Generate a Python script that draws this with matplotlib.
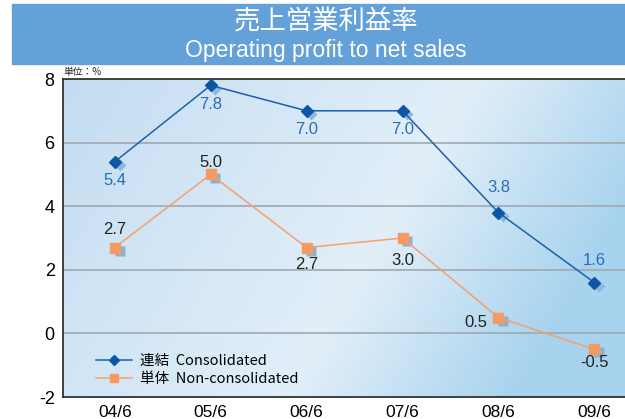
import matplotlib
matplotlib.use("Agg")
import matplotlib.pyplot as plt
import numpy as np
from matplotlib.patches import Rectangle

plt.rcParams['font.family'] = ['Noto Sans CJK JP', 'DejaVu Sans']

periods = ["04/6", "05/6", "06/6", "07/6", "08/6", "09/6"]
consolidated = [5.4, 7.8, 7.0, 7.0, 3.8, 1.6]
non_consolidated = [2.7, 5.0, 2.7, 3.0, 0.5, -0.5]
yticks = [-2, 0, 2, 4, 6, 8]

W, H = 625, 419
fig = plt.figure(figsize=(W / 100, H / 100), dpi=100)
LAT = ["Liberation Sans", "DejaVu Sans"]

# title banner
fig.patches.append(Rectangle((12 / W, 1 - 64 / H), (W - 12) / W, 60 / H,
                             transform=fig.transFigure, color="#63a1d8", zorder=0))
fig.text(326 / W, 1 - 21.5 / H, "売上営業利益率", color="white", fontsize=19,
         ha="center", va="center")
fig.text(326 / W, 1 - 51 / H, "Operating profit to net sales", color="white",
         fontsize=16.5, ha="center", va="center", family=LAT)

left, right, top, bottom = 63, 625, 79, 397
ax = fig.add_axes([left / W, 1 - bottom / H, (right - left) / W, (bottom - top) / H])

x = np.arange(len(periods))
ax.set_xlim(-0.54, 5.32)
ax.set_ylim(-2, 8)

# gradient background
nx, ny = 300, 200
gx, gy = np.meshgrid(np.linspace(0, 1, nx), np.linspace(0, 1, ny))
t = 0.75 * gx + 0.25 * (1 - gy)
c0 = np.array([0xc4, 0xdd, 0xf2]) / 255
c1 = np.array([0xe2, 0xef, 0xf9]) / 255
c2 = np.array([0xa8, 0xd3, 0xee]) / 255
base = np.where(t[..., None] < 0.55, c0 + (c1 - c0) * np.clip(t / 0.55, 0, 1)[..., None],
                c1 + (c2 - c1) * np.clip((t - 0.55) / 0.3, 0, 1)[..., None])
ax.imshow(base, extent=[-0.54, 5.32, -2, 8], aspect="auto", origin="lower", zorder=0)

for yv in [0, 2, 4, 6]:
    ax.axhline(yv, color="#a0a8b0", lw=1.2, zorder=1)

# shadows
ax.plot(x + 0.05, np.array(consolidated) - 0.1, "D", ms=6.5, color="#8fb8d8", zorder=2, mec="none")
ax.plot(x + 0.05, np.array(non_consolidated) - 0.1, "s", ms=6.5, color="#8fb2cc", zorder=2, mec="none")

ax.plot(x, consolidated, "-D", color="#1d5fab", lw=1.1, ms=6.5, mfc="#0c56a5", mec="#0c56a5",
        zorder=4, label="連結  Consolidated")
ax.plot(x, non_consolidated, "-s", color="#f5a06a", lw=1.1, ms=6.5, mfc="#f59b62", mec="#f59b62",
        zorder=3, label="単体  Non-consolidated")

blue_off = [(0, -0.58), (0, -0.6), (0, -0.6), (0, -0.6), (0, 0.8), (0, 0.68)]
for xi, v, (dx, dy) in zip(x, consolidated, blue_off):
    ax.text(xi + dx, v + dy, f"{v:.1f}", color="#2b6cb4", fontsize=12, ha="center", va="center",
            family=LAT, zorder=5)
orange_off = [(0, 0.58), (0, 0.38), (0, -0.52), (0, -0.7), (-0.23, -0.15), (0, -0.42)]
for xi, v, (dx, dy) in zip(x, non_consolidated, orange_off):
    ax.text(xi + dx, v + dy, f"{v:.1f}", color="#222222", fontsize=12, ha="center", va="center",
            family=LAT, zorder=5)

ax.set_xticks(x)
ax.set_xticklabels(periods, family=LAT, fontsize=12.5)
ax.set_yticks(yticks)
ax.set_yticklabels([str(v) for v in yticks], family=LAT, fontsize=13)
ax.tick_params(length=0, pad=6)
for s in ["top", "bottom", "left"]:
    ax.spines[s].set_color("#222222")
    ax.spines[s].set_linewidth(1.2)
ax.spines["right"].set_visible(False)

leg = ax.legend(loc="lower left", bbox_to_anchor=(0.035, -0.008), frameon=False, fontsize=10.5,
                handlelength=2.5, labelspacing=0.3, handletextpad=0.55, markerscale=0.85)

fig.text(left / W, 1 - 72 / H, "単位：%", fontsize=7, ha="left", va="center", color="#222222")

fig.savefig("out.png", dpi=100)
